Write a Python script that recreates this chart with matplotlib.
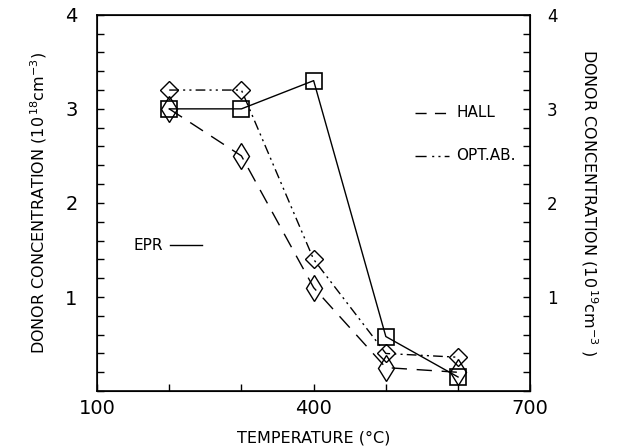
import matplotlib
matplotlib.use('Agg')
import matplotlib.pyplot as plt
from matplotlib.ticker import MultipleLocator, FixedLocator

# temperatures (deg C)
temp = [200, 300, 400, 500, 600]

# donor concentration series
epr = [3.0, 3.0, 3.3, 0.58, 0.15]      # squares, solid
opt_ab = [3.2, 3.2, 1.4, 0.4, 0.36]    # diamonds, dash-dot-dot
hall = [3.0, 2.5, 1.1, 0.25, 0.2]      # diamonds, dashed

xticks = [100, 400, 700]
yticks = [1, 2, 3, 4]

plt.rcParams['font.family'] = 'DejaVu Sans'

fig = plt.figure(figsize=(6.18, 4.48), dpi=100)
ax = fig.add_axes([0.157, 0.127, 0.701, 0.840])

lw = 1.0
ax.plot(temp, hall, color='black', lw=lw, dashes=(11, 7),
        marker='d', ms=13, mfc='none', mec='black', mew=1.0)
ax.plot(temp, opt_ab, color='black', lw=lw, dashes=(7, 3, 1.5, 3, 1.5, 3),
        marker='D', ms=9, mfc='none', mec='black', mew=1.0)
ax.plot(temp, epr, color='black', lw=lw, ls='-',
        marker='s', ms=12, mfc='none', mec='black', mew=1.2)

ax.set_xlim(100, 700)
ax.set_ylim(0, 4)
ax.xaxis.set_major_locator(FixedLocator(xticks))
ax.xaxis.set_minor_locator(MultipleLocator(100))
ax.yaxis.set_major_locator(FixedLocator(yticks))
ax.yaxis.set_minor_locator(MultipleLocator(0.2))
ax.tick_params(which='both', direction='in', length=5, width=1.0, labelsize=14)
ax.tick_params(axis='x', which='major', pad=6)
ax.tick_params(axis='y', which='major', pad=14)
for s in ax.spines.values():
    s.set_linewidth(1.2)

ax2 = ax.twinx()
ax2.set_ylim(0, 4)
ax2.yaxis.set_major_locator(FixedLocator(yticks))
ax2.yaxis.set_minor_locator(MultipleLocator(0.2))
ax2.tick_params(which='both', direction='in', length=5, width=1.0, labelsize=12, pad=12)

ax.set_xlabel('TEMPERATURE (°C)', fontsize=11.5, labelpad=9)
ax.set_ylabel(r'DONOR CONCENTRATION (10$^{\,18}$cm$^{-3}$)', fontsize=11.5, labelpad=12)
ax2.set_ylabel(r'DONOR CONCENTRATION (10$^{\,19}$cm$^{-3}$ )', fontsize=11.5,
               rotation=-90, labelpad=30)

# in-plot labels
ax.plot([540, 588], [2.96, 2.96], color='black', lw=lw, dashes=(8, 6))
ax.text(598, 2.96, 'HALL', fontsize=11, va='center', ha='left')
ax.plot([540, 588], [2.50, 2.50], color='black', lw=lw, dashes=(8, 4, 1.5, 3, 1.5, 3))
ax.text(598, 2.50, 'OPT.AB.', fontsize=11, va='center', ha='left')
ax.text(150, 1.55, 'EPR', fontsize=11, va='center', ha='left')
ax.plot([201, 245], [1.55, 1.55], color='black', lw=lw)

fig.savefig('out.png', dpi=100)
